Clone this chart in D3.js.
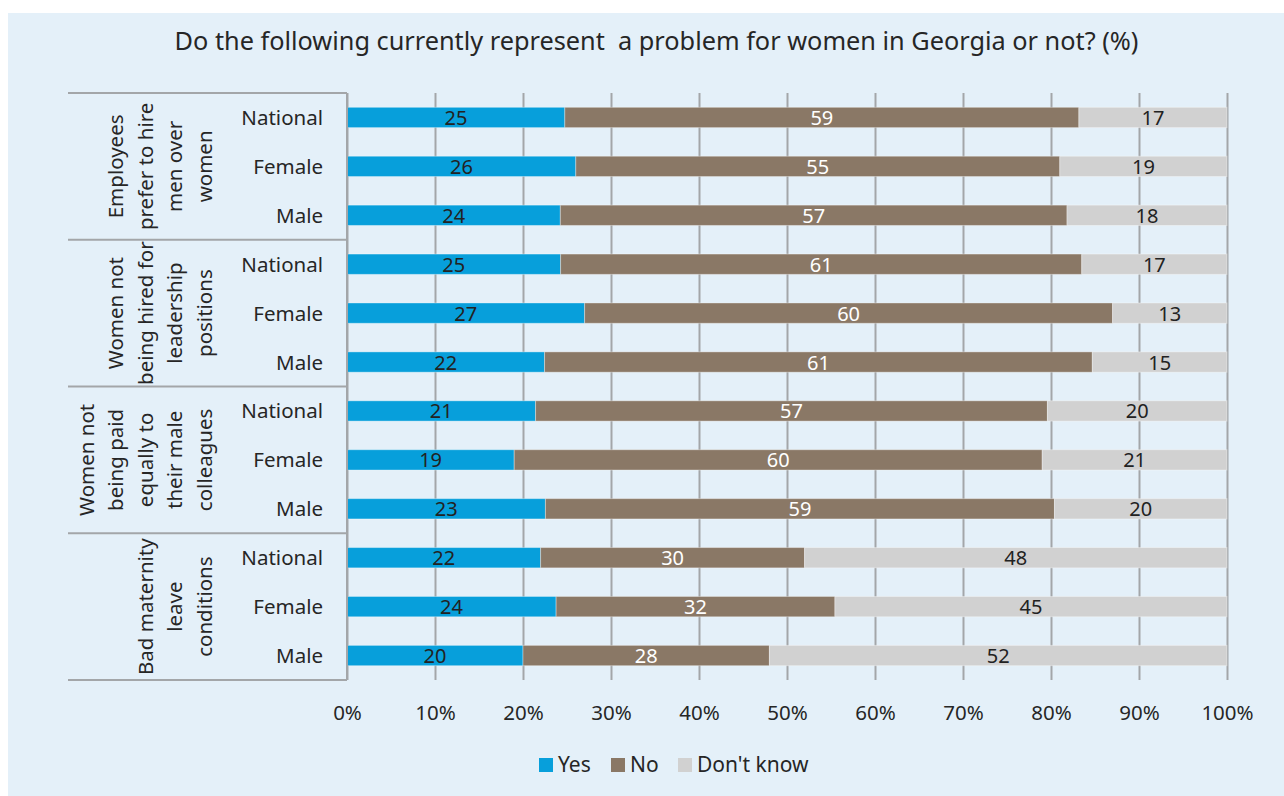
<!DOCTYPE html>
<html>
<head>
<meta charset="utf-8">
<script src="https://cdn.jsdelivr.net/npm/d3@7"></script>
<style>
  html, body { margin: 0; padding: 0; background: #ffffff; }
  svg { display: block; font-family: "Noto Sans", "Open Sans", sans-serif; }
</style>
</head>
<body>
<svg id="chart" width="1284" height="796"></svg>
<script>
const title = "Do the following currently represent\u00a0 a problem for women in Georgia or not? (%)";
const groupLines = [
  ["Employees", "prefer to hire", "men over", "women"],
  ["Women not", "being hired for", "leadership", "positions"],
  ["Women not", "being paid", "equally to", "their male", "colleagues"],
  ["Bad maternity", "leave", "conditions"]
];
const subgroups = ["National", "Female", "Male"];
const seriesNames = ["Yes", "No", "Don't know"];
const yesVals = [25, 26, 24, 25, 27, 22, 21, 19, 23, 22, 24, 20];
const noVals  = [59, 55, 57, 61, 60, 61, 57, 60, 59, 30, 32, 28];
const dkVals  = [17, 19, 18, 17, 13, 15, 20, 21, 20, 48, 45, 52];
const tickVals = [0, 10, 20, 30, 40, 50, 60, 70, 80, 90, 100];

const colors = ["#079fdb", "#8a7866", "#d1d1d1"];
const labelColors = ["#222222", "#ffffff", "#222222"];
const gridColor = "#a3a6a9";
const textColor = "#262626";

const svg = d3.select("#chart");
svg.append("rect").attr("x", 8).attr("y", 13).attr("width", 1276).attr("height", 783).attr("fill", "#e4f0f9");

const x0 = 347, x1 = 1227, yTop = 93, yBot = 680;
const x = d3.scaleLinear().domain([0, 100]).range([x0, x1]);

const rows = [];
groupLines.forEach((g, gi) => subgroups.forEach((s, si) => rows.push({ key: gi + "-" + si, gi, s, idx: gi * 3 + si })));
const y = d3.scaleBand().domain(rows.map(r => r.key)).range([yTop, yBot]).paddingInner(0.585).paddingOuter(0.2925);

// Title
svg.append("text").attr("x", 656.5).attr("y", 50).attr("text-anchor", "middle")
  .attr("font-size", 25.3).attr("fill", textColor).text(title);

// Gridlines + tick labels
const xAxis = d3.axisBottom(x).tickValues(tickVals).tickSize(-(yBot - yTop)).tickFormat(d => d + "%");
const gx = svg.append("g").attr("transform", `translate(0,${yBot})`).call(xAxis);
gx.select(".domain").remove();
gx.selectAll(".tick line").attr("stroke", gridColor).attr("stroke-width", 2);
gx.selectAll(".tick text").attr("font-size", 20.5).attr("fill", textColor).attr("dy", 0).attr("y", 39.5)
  .attr("font-family", "'Noto Sans', 'Open Sans', sans-serif");

// Bars
rows.forEach(r => {
  const vals = [yesVals[r.idx], noVals[r.idx], dkVals[r.idx]];
  const total = d3.sum(vals);
  let cum = 0;
  vals.forEach((v, k) => {
    const a = cum / total * 100, b = (cum + v) / total * 100;
    cum += v;
    svg.append("rect").attr("x", x(a)).attr("y", y(r.key)).attr("width", x(b) - x(a)).attr("height", y.bandwidth())
      .attr("fill", colors[k]).attr("stroke", "rgba(255,255,255,0.35)").attr("stroke-width", 1);
    svg.append("text").attr("x", (x(a) + x(b)) / 2).attr("y", y(r.key) + y.bandwidth() / 2 + 7.5)
      .attr("text-anchor", "middle").attr("font-size", 20).attr("fill", labelColors[k]).text(v);
  });
});

// Category axis lines
const edges = d3.range(5).map(i => yTop + i * (yBot - yTop) / 4);
svg.append("line").attr("x1", x0).attr("x2", x0).attr("y1", yTop).attr("y2", yBot).attr("stroke", gridColor).attr("stroke-width", 2);
edges.forEach(e => {
  svg.append("line").attr("x1", 68).attr("x2", x0).attr("y1", e).attr("y2", e).attr("stroke", gridColor).attr("stroke-width", 2);
});

// Subgroup labels
rows.forEach(r => {
  svg.append("text").attr("x", 323).attr("y", y(r.key) + y.bandwidth() / 2 + 7.5).attr("text-anchor", "end")
    .attr("font-size", 20.5).attr("fill", textColor).text(r.s);
});

// Group labels (rotated)
groupLines.forEach((lines, gi) => {
  const cy = (edges[gi] + edges[gi + 1]) / 2;
  const n = lines.length;
  lines.forEach((ln, li) => {
    const cx = 204 - (n - 1 - li) * 29.5;
    svg.append("text").attr("transform", `translate(${cx + 7.5},${cy}) rotate(-90)`)
      .attr("text-anchor", "middle").attr("font-size", 20.5).attr("fill", textColor).text(ln);
  });
});

// Legend
const legendX = [539, 611, 678];
seriesNames.forEach((s, k) => {
  svg.append("rect").attr("x", legendX[k]).attr("y", 758).attr("width", 14).attr("height", 14).attr("fill", colors[k]);
  svg.append("text").attr("x", legendX[k] + 19).attr("y", 772).attr("font-size", 21).attr("fill", textColor).text(s);
});
</script>
</body>
</html>
